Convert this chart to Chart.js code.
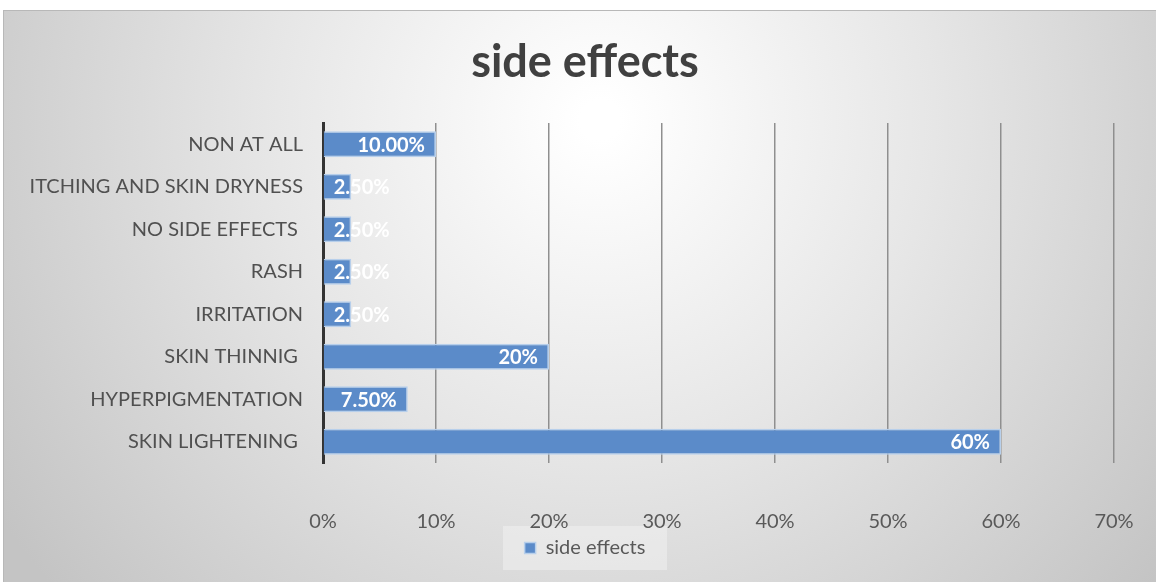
<!DOCTYPE html>
<html>
<head>
<meta charset="utf-8">
<script src="https://cdn.jsdelivr.net/npm/chart.js@4.4.1/dist/chart.umd.min.js"></script>
<style>
  html, body { margin: 0; padding: 0; background: #fff; }
  #wrap { width: 1156px; height: 582px; position: relative; }
</style>
</head>
<body>
<div id="wrap"><canvas id="myChart" width="1156" height="582"></canvas></div>
<script>
// categories, top to bottom as in the picture
const categories = ["NON AT ALL", "ITCHING AND SKIN DRYNESS", "NO SIDE EFFECTS ", "RASH", "IRRITATION", "SKIN THINNIG ", "HYPERPIGMENTATION", "SKIN LIGHTENING "];
const values = [10, 2.5, 2.5, 2.5, 2.5, 20, 7.5, 60];
const valueLabels = ["10.00%", "2.50%", "2.50%", "2.50%", "2.50%", "20%", "7.50%", "60%"];
const seriesName = "side effects";
const FONT = "Lato, 'Open Sans', sans-serif";
const CENTER_X = 585; // title and legend sit around here in the picture

// gray radial background like the office theme
const bgPlugin = {
	id: "bg",
	afterLayout(chart) {
		// move title and legend so they are centred like the original
		[chart.titleBlock, chart.legend].forEach((b) => {
			if (!b) return;
			const d = CENTER_X - (b.left + b.right) / 2;
			b.left += d;
			b.right += d;
		});
	},
	beforeDraw(chart) {
		const c = chart.ctx;
		c.save();
		c.fillStyle = "#ffffff";
		c.fillRect(0, 0, chart.width, chart.height);
		const g = c.createRadialGradient(600, 120, 20, 600, 120, 720);
		g.addColorStop(0, "#ffffff");
		g.addColorStop(0.45, "#e6e6e6");
		g.addColorStop(1, "#c4c4c4");
		c.fillStyle = g;
		c.fillRect(3, 10, chart.width - 3, chart.height - 10);
		c.strokeStyle = "#b8b8b8";
		c.lineWidth = 1;
		c.strokeRect(3.5, 10.5, chart.width, chart.height);
		// light box behind the legend
		const lg = chart.legend;
		if (lg) {
			c.fillStyle = "rgba(240,240,240,0.55)";
			c.fillRect(CENTER_X - 82, lg.top - 2, 164, lg.height + 4);
		}
		c.restore();
	}
};

// white bold labels at the inside end of each bar
const labelPlugin = {
	id: "barLabels",
	afterDatasetsDraw(chart) {
		const c = chart.ctx;
		const meta = chart.getDatasetMeta(0);
		c.save();
		c.font = "bold 20px " + FONT;
		c.fillStyle = "#ffffff";
		c.textBaseline = "middle";
		c.textAlign = "left";
		meta.data.forEach((bar, i) => {
			const txt = valueLabels[i];
			const w = c.measureText(txt).width;
			let left = bar.x - 11 - w;
			if (left < bar.base + 10) left = bar.base + 10;
			c.fillText(txt, left, bar.y + 1);
		});
		c.restore();
	}
};

const myChart = new Chart(document.getElementById("myChart").getContext("2d"), {
	type: "bar",
	data: {
		labels: categories,
		datasets: [{
			label: seriesName,
			data: values,
			backgroundColor: "#5b8bc9",
			borderColor: "#b7cfeb",
			borderWidth: 1.5,
			borderSkipped: "start",
			categoryPercentage: 1,
			barPercentage: 0.61
		}]
	},
	options: {
		indexAxis: "y",
		responsive: false,
		animation: false,
		layout: { padding: { left: 3, right: 42, top: 10, bottom: 14 } },
		scales: {
			x: {
				min: 0,
				max: 70,
				ticks: {
					stepSize: 10,
					color: "#595959",
					font: { family: FONT, size: 20 },
					padding: 47,
					callback: (v) => v + "%"
				},
				grid: { color: "#8f8f8f", lineWidth: 1.5, drawTicks: false },
				border: { display: false },
				afterFit(scale) {
					scale.height = 65;
					scale.paddingLeft = 0;
					scale.paddingRight = 0;
				}
			},
			y: {
				ticks: {
					color: "#505050",
					font: { family: FONT, size: 20 },
					padding: 20
				},
				grid: { display: false, drawTicks: false },
				border: { display: true, color: "#333333", width: 3 },
				afterFit(scale) {
					scale.width = 320;
					scale.paddingTop = 0;
					scale.paddingBottom = 0;
				}
			}
		},
		plugins: {
			title: {
				display: true,
				text: "side effects",
				color: "#404040",
				font: { family: FONT, size: 45, weight: "bold" },
				padding: { top: 25, bottom: 34 }
			},
			legend: {
				position: "bottom",
				labels: {
					color: "#595959",
					font: { family: FONT, size: 20 },
					boxWidth: 11,
					boxHeight: 11,
					padding: 10
				}
			},
			tooltip: { enabled: false }
		}
	},
	plugins: [bgPlugin, labelPlugin]
});
</script>
</body>
</html>
